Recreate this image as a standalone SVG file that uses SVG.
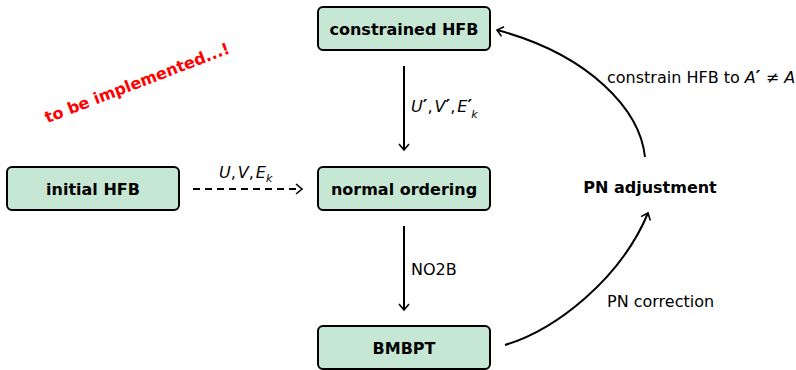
<svg xmlns="http://www.w3.org/2000/svg" width="796" height="370" viewBox="0 0 796 370">
<style>
.box{fill:#c5e7d4;stroke:#000;stroke-width:2}
.bt{font-family:"DejaVu Sans",sans-serif;font-weight:bold;font-size:16px;text-anchor:middle;fill:#000}
.lt{font-family:"DejaVu Sans",sans-serif;font-size:16px;fill:#000}
.m{font-style:italic}
.p{font-size:18px;font-weight:bold}
.edge{fill:none;stroke:#000;stroke-width:2}
</style>
<defs>
<marker id="arr" markerUnits="userSpaceOnUse" markerWidth="14" markerHeight="14" refX="0" refY="0" viewBox="-8 -7 10 14" orient="auto" overflow="visible">
<path d="M-6,-5 L0,0 L-6,5" fill="none" stroke="#000" stroke-width="1.6"/>
</marker>
</defs>
<rect width="796" height="370" fill="#fff"/>
<g id="constrained">
<rect class="box" x="318" y="7" width="172" height="43" rx="5"/>
<text class="bt" x="404" y="35">constrained HFB</text>
</g>
<g id="normal">
<rect class="box" x="318" y="167" width="172" height="43" rx="5"/>
<text class="bt" x="404" y="195">normal ordering</text>
</g>
<g id="initial">
<rect class="box" x="7" y="167" width="172" height="43" rx="5"/>
<text class="bt" x="93" y="195">initial HFB</text>
</g>
<g id="bmbpt">
<rect class="box" x="318" y="326" width="172" height="43" rx="5"/>
<text class="bt" x="404" y="354">BMBPT</text>
</g>
<g id="pn">
<text class="bt" x="650" y="193">PN adjustment</text>
</g>
<g id="connectors">
<path class="edge" d="M404,66 L404,150" marker-end="url(#arr)"/>
<path class="edge" d="M404,226 L404,310" marker-end="url(#arr)"/>
<path class="edge" d="M193,189 L302,189" stroke-dasharray="7,5" marker-end="url(#arr)"/>
<path class="edge" d="M505,345 C555,330 620,280 648,213" marker-end="url(#arr)"/>
<path class="edge" d="M645,157 C640,110 590,55 497,30" marker-end="url(#arr)"/>
</g>
<g id="labels">
<text class="lt" x="411" y="112"><tspan class="m">U</tspan><tspan class="p">′</tspan>,<tspan class="m" dx="2">V</tspan><tspan class="p">′</tspan>,<tspan class="m" dx="2">E</tspan><tspan class="p">′</tspan><tspan class="m" font-size="11" dx="-1" dy="6">k</tspan></text>
<text class="lt" x="219" y="178"><tspan class="m">U</tspan>,<tspan class="m" dx="2">V</tspan>,<tspan class="m" dx="2">E</tspan><tspan class="m" font-size="11" dy="4">k</tspan></text>
<text class="lt" x="411" y="275">NO2B</text>
<text class="lt" x="607" y="83">constrain HFB to <tspan class="m">A</tspan><tspan class="p">′</tspan> ≠ <tspan class="m">A</tspan></text>
<text class="lt" x="607" y="307">PN correction</text>
<text class="bt" style="fill:#ff0000" transform="translate(139,88) rotate(-21)" x="0" y="0">to be implemented...!</text>
</g>
</svg>
